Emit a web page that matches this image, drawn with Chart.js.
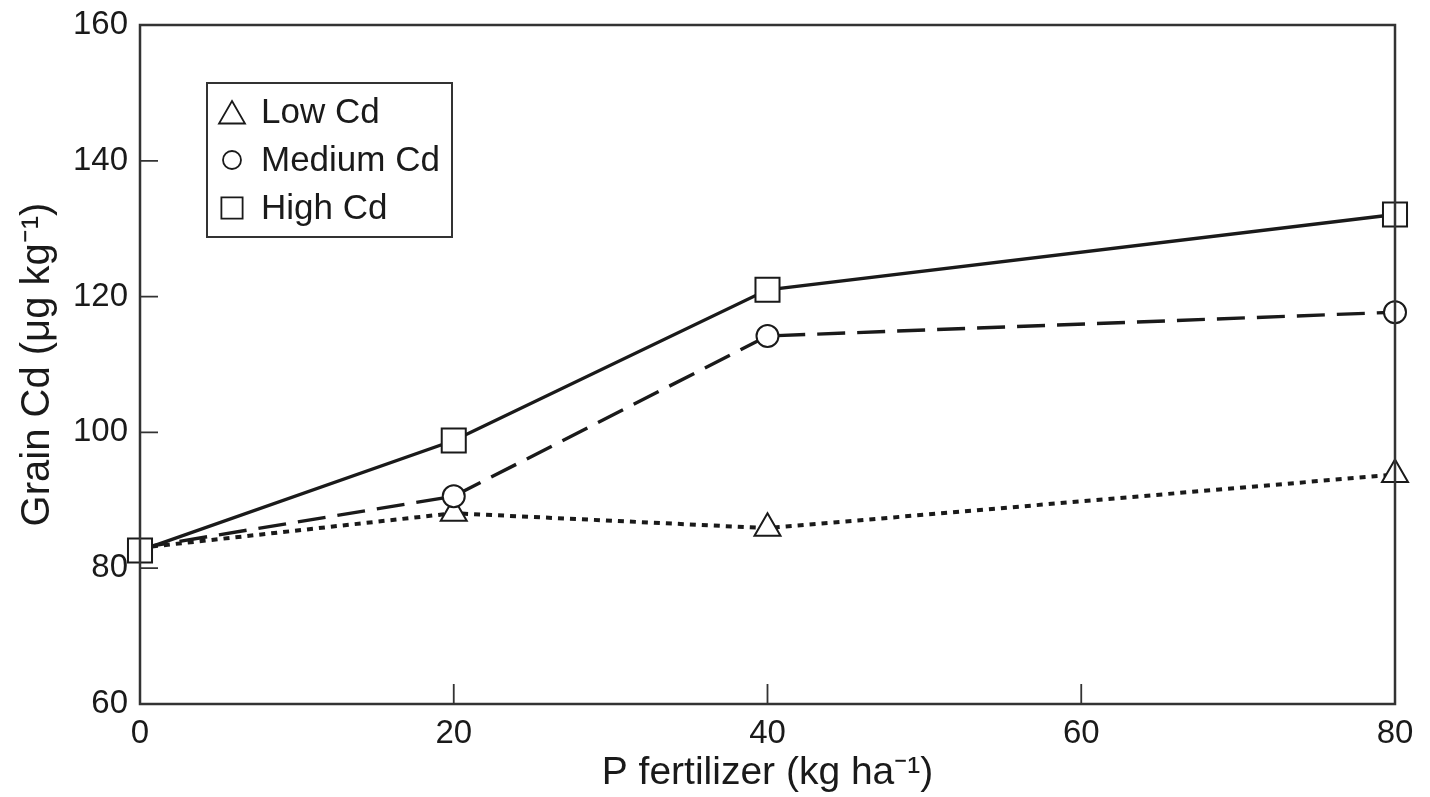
<!DOCTYPE html>
<html>
<head>
<meta charset="UTF-8">
<title>Grain Cd vs P fertilizer</title>
<script src="https://cdn.jsdelivr.net/npm/chart.js"></script>
<style>
  html, body { margin: 0; padding: 0; background: #fff; }
  #wrap { width: 1430px; height: 797px; }
</style>
</head>
<body>
<div id="wrap"><canvas id="cd"></canvas></div>
<script>
// values
const pRates = [0, 20, 40, 80];
const lowCd = [83, 88.1, 85.9, 93.8];
const mediumCd = [83, 90.6, 114.2, 117.7];
const highCd = [82.6, 98.8, 121, 132.1];
const yTicks = [60, 80, 100, 120, 140, 160];
const xTicks = [0, 20, 40, 60, 80];

const ink = '#1a1a1a';
const axisInk = '#333';
const font = 'Liberation Sans, Arial, Helvetica, sans-serif';

const pts = arr => arr.map((v, i) => ({ x: pRates[i], y: v }));

// frame + inward ticks
const framePlugin = {
  id: 'frame',
  afterDatasetsDraw(chart) {
    const { ctx, chartArea: a, scales } = chart;
    ctx.save();
    ctx.strokeStyle = axisInk;
    ctx.lineWidth = 2.5;
    ctx.strokeRect(a.left, a.top, a.right - a.left, a.bottom - a.top);
    ctx.lineWidth = 1.8;
    ctx.beginPath();
    yTicks.forEach(v => {
      const y = scales.y.getPixelForValue(v);
      ctx.moveTo(a.left, y); ctx.lineTo(a.left + 18, y);
    });
    xTicks.forEach(v => {
      const x = scales.x.getPixelForValue(v);
      ctx.moveTo(x, a.bottom); ctx.lineTo(x, a.bottom - 20);
    });
    ctx.stroke();
    ctx.restore();
  }
};

// boxed legend inside the plot
const legendSize = { triangle: 15, circle: 9, rect: 15 };
const boxLegend = {
  id: 'boxLegend',
  afterDraw(chart) {
    const { ctx } = chart;
    ctx.save();
    ctx.strokeStyle = axisInk;
    ctx.lineWidth = 2;
    ctx.strokeRect(207, 83, 245, 154);
    ctx.font = '35px ' + font;
    ctx.textBaseline = 'middle';
    chart.data.datasets.forEach((ds, k) => {
      const y = 112 + k * 48;
      ctx.strokeStyle = ink;
      ctx.fillStyle = '#fff';
      ctx.lineWidth = 1.8;
      const dy = ds.pointStyle === 'triangle' ? 4 : 0;
      Chart.helpers.drawPoint(ctx, { pointStyle: ds.pointStyle, radius: legendSize[ds.pointStyle], rotation: 0, borderWidth: 1.8 }, 232, y + dy);
      ctx.fillStyle = ink;
      ctx.fillText(ds.label, 261, y + 1);
    });
    ctx.restore();
  }
};

const common = {
  borderColor: ink,
  pointBorderColor: ink,
  pointBackgroundColor: '#fff',
  pointBorderWidth: 2,
  borderWidth: 3.4,
  tension: 0,
  clip: false
};

// the shared start point only shows the High Cd square
const hideFirst = r => c => (c.dataIndex === 0 ? 0 : r);

new Chart(document.getElementById('cd'), {
  type: 'line',
  data: {
    datasets: [
      Object.assign({}, common, {
        label: 'Low Cd', data: pts(lowCd), pointStyle: 'triangle',
        pointRadius: hideFirst(15), borderDash: [6, 6], borderWidth: 4, order: 3
      }),
      Object.assign({}, common, {
        label: 'Medium Cd', data: pts(mediumCd), pointStyle: 'circle',
        pointRadius: hideFirst(11), borderDash: [28, 12], order: 2
      }),
      Object.assign({}, common, {
        label: 'High Cd', data: pts(highCd), pointStyle: 'rect',
        pointRadius: 17, order: 1
      })
    ]
  },
  options: {
    responsive: true,
    maintainAspectRatio: false,
    animation: false,
    events: [],
    layout: { padding: { top: 25, right: 35, left: 0, bottom: 0 } },
    plugins: { legend: { display: false }, tooltip: { enabled: false } },
    scales: {
      x: {
        type: 'linear', min: 0, max: 80,
        afterFit(s) { s.height = 93; },
        afterBuildTicks(s) { s.ticks = xTicks.map(v => ({ value: v })); },
        grid: { display: false },
        border: { display: false },
        ticks: { color: ink, font: { family: font, size: 33 }, padding: 2 },
        title: {
          display: true, text: 'P fertilizer (kg ha\u207B\u00B9)',
          color: ink, font: { family: font, size: 39 }, padding: { top: 0, bottom: 0 }
        }
      },
      y: {
        min: 60, max: 160,
        afterFit(s) { s.width = 140; },
        afterBuildTicks(s) { s.ticks = yTicks.map(v => ({ value: v })); },
        grid: { display: false },
        border: { display: false },
        ticks: { color: ink, font: { family: font, size: 33 }, padding: 4 },
        title: {
          display: true, text: 'Grain Cd (\u03BCg kg\u207B\u00B9)',
          color: ink, font: { family: font, size: 40 }, padding: { top: 14, bottom: 0 }
        }
      }
    }
  },
  plugins: [framePlugin, boxLegend]
});
</script>
</body>
</html>
